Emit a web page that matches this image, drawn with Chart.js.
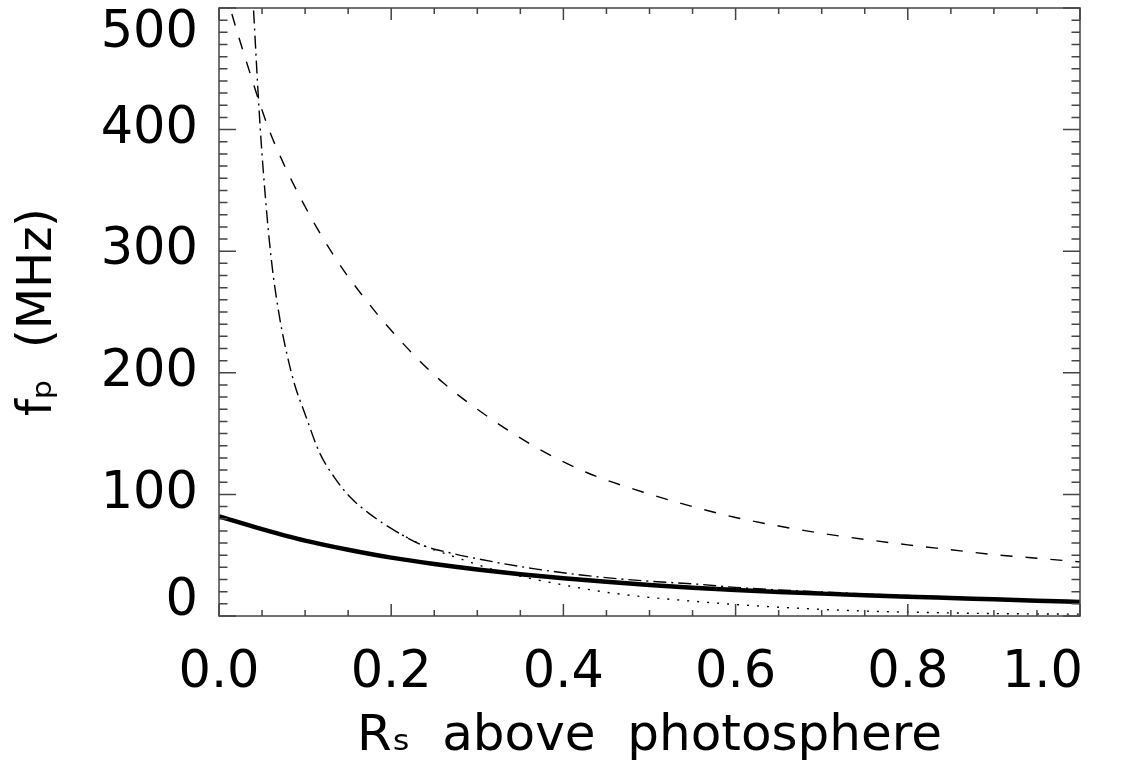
<!DOCTYPE html>
<html>
<head>
<meta charset="utf-8">
<script src="https://cdn.jsdelivr.net/npm/chart.js@4/dist/chart.umd.min.js"></script>
<style>
  body { margin: 0; background: #fff; }
  canvas { display: block; }
</style>
</head>
<body>
<canvas id="plasmaChart" width="1129" height="776"></canvas>
<script>
// height above photosphere (R_s) and plasma frequency (MHz)
const solidX = [0, 0.05, 0.1, 0.15, 0.2, 0.25, 0.3, 0.35, 0.4, 0.45, 0.5, 0.55, 0.6, 0.65, 0.7, 0.75, 0.8, 0.85, 0.9, 0.95, 1.0];
const solidY = [82, 71.5, 62, 54.5, 48, 42.8, 38.3, 34.4, 31, 28.1, 25.5, 23.3, 21.4, 19.8, 18.4, 17.1, 15.9, 14.8, 13.7, 12.6, 11.6];

const dashX = [0, 0.013, 0.03, 0.057, 0.075, 0.096, 0.113, 0.131, 0.148, 0.175, 0.19, 0.23, 0.26, 0.3, 0.365, 0.427, 0.492, 0.55, 0.6, 0.65, 0.7, 0.75, 0.8, 0.85, 0.9, 0.95, 1.0];
const dashY = [535, 500, 460, 402, 372, 342, 320, 299, 281, 256, 243, 212, 192, 170, 140, 118, 102, 90, 81, 74, 68, 63, 58.5, 54.5, 50.5, 47.5, 44.5];

const dashDotX = [0.034, 0.04, 0.048, 0.055, 0.059, 0.063, 0.071, 0.079, 0.088, 0.1, 0.117, 0.135, 0.152, 0.175, 0.207, 0.237, 0.268, 0.323, 0.365, 0.423, 0.492, 0.559, 0.6, 0.7, 0.8, 0.9, 1.0];
const dashDotY = [580, 500, 400, 335, 305, 280, 243, 215, 190, 166, 134, 113, 98, 84, 69, 58, 52, 44, 39, 33.5, 29, 26, 23.5, 19.8, 16.8, 14.2, 12];

const dotX = [0.207, 0.237, 0.268, 0.315, 0.357, 0.404, 0.45, 0.497, 0.52, 0.597, 0.675, 0.753, 0.83, 0.9, 1.0];
const dotY = [69, 58, 50, 39, 31.6, 25, 19.5, 15.5, 14, 9.6, 6.3, 4, 2.8, 2, 1.5];

const xTickLabels = ["0.0", "0.2", "0.4", "0.6", "0.8", "1.0\u2007\u2007\u2009"];
const yTickLabels = ["0", "100", "200", "300", "400", "500"];

const pts = (xs, ys) => xs.map((x, i) => ({ x: x, y: ys[i] }));

const FONT = "'DejaVu Sans', 'Liberation Sans', sans-serif";
const AXIS = "#444";

// IDL style box: frame plus inward ticks on all four sides
const boxTicks = {
  id: "boxTicks",
  afterDatasetsDraw(chart) {
    const { ctx, chartArea: a, scales: { x, y } } = chart;
    ctx.save();
    ctx.strokeStyle = AXIS;
    ctx.lineWidth = 1.5;
    ctx.strokeRect(a.left, a.top, a.right - a.left, a.bottom - a.top);
    ctx.beginPath();
    for (let i = 0; i <= 20; i++) {
      const px = x.getPixelForValue(i * 0.05);
      const len = i % 4 === 0 ? 12 : 6;
      ctx.moveTo(px, a.bottom); ctx.lineTo(px, a.bottom - len);
      ctx.moveTo(px, a.top); ctx.lineTo(px, a.top + len);
    }
    for (let i = 0; i <= 50; i++) {
      const py = y.getPixelForValue(i * 10);
      const len = i % 10 === 0 ? 17 : 8.5;
      ctx.moveTo(a.left, py); ctx.lineTo(a.left + len, py);
      ctx.moveTo(a.right, py); ctx.lineTo(a.right - len, py);
    }
    ctx.stroke();
    ctx.restore();
  }
};

const line = (data, width, dash) => ({
  data: data,
  borderColor: "#000",
  borderWidth: width,
  borderDash: dash,
  pointRadius: 0,
  fill: false,
  cubicInterpolationMode: "monotone"
});

new Chart(document.getElementById("plasmaChart"), {
  type: "line",
  data: {
    datasets: [
      line(pts(solidX, solidY), 4.5, []),
      line(pts(dashX, dashY), 1.4, [12, 13]),
      line(pts(dashDotX, dashDotY), 1.4, [13, 5, 2, 5]),
      line(pts(dotX, dotY), 1.4, [2, 8])
    ]
  },
  options: {
    responsive: false,
    animation: false,
    layout: { padding: { top: 8, right: 49, left: 0, bottom: 0 } },
    plugins: { legend: { display: false }, tooltip: { enabled: false } },
    scales: {
      x: {
        type: "linear",
        min: 0,
        max: 1,
        grid: { display: false, drawTicks: false },
        border: { display: false },
        ticks: {
          stepSize: 0.2,
          padding: 27,
          color: "#000",
          font: { family: FONT, size: 51 },
          callback: (v, i) => xTickLabels[i]
        },
        title: {
          display: true,
          text: "Rₛ  above  photosphere",
          color: "#000",
          font: { family: FONT, size: 50 },
          padding: { top: 0, bottom: 9 }
        },
        afterFit: (s) => { s.height = 160; s.paddingLeft = 0; s.paddingRight = 0; }
      },
      y: {
        type: "linear",
        min: 0,
        max: 500,
        grid: { display: false, drawTicks: false },
        border: { display: false },
        ticks: {
          stepSize: 100,
          padding: 21,
          color: "#000",
          font: (c) => ({
            family: FONT,
            size: 51,
            lineHeight: c.tick && c.tick.value === 500 ? "52px" : (c.tick && c.tick.value === 0 ? "28px" : 1.2)
          }),
          callback: (v, i) => {
            const t = yTickLabels[i];
            if (v === 500) return ["", t];
            if (v === 0) return [t, ""];
            return t;
          }
        },
        title: {
          display: true,
          text: "fₚ  (MHz)",
          color: "#000",
          font: { family: FONT, size: 48 },
          padding: { top: 10, bottom: 0 }
        },
        afterFit: (s) => { s.width = 219; s.paddingTop = 0; s.paddingBottom = 0; }
      }
    }
  },
  plugins: [boxTicks]
});
</script>
</body>
</html>
